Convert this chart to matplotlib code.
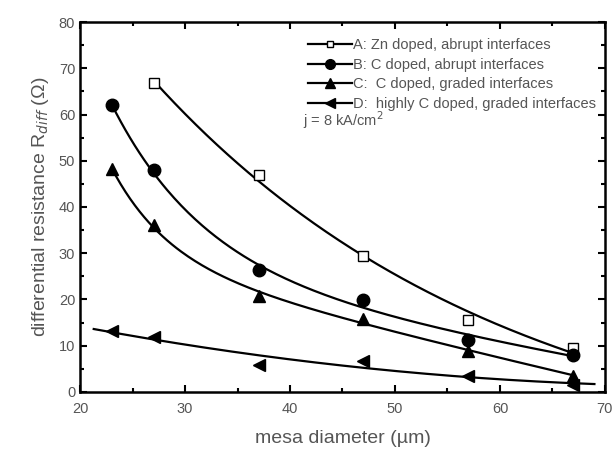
import numpy as np
import matplotlib
matplotlib.use("Agg")
import matplotlib.pyplot as plt
from matplotlib.ticker import MultipleLocator

plt.rcParams['font.family'] = ['Liberation Sans', 'DejaVu Sans']

x_A = [27, 37, 47, 57, 67]
y_A = [66.8, 47.0, 29.3, 15.5, 9.5]
x_B = [23, 27, 37, 47, 57, 67]
y_B = [62.0, 48.0, 26.3, 19.8, 11.3, 8.0]
x_C = [23, 27, 37, 47, 57, 67]
y_C = [48.3, 36.0, 20.8, 15.8, 8.8, 3.5]
x_D = [23, 27, 37, 47, 57, 67]
y_D = [13.1, 11.9, 5.9, 6.6, 3.5, 1.5]

labels = ["A: Zn doped, abrupt interfaces",
          "B: C doped, abrupt interfaces",
          "C:  C doped, graded interfaces",
          "D:  highly C doped, graded interfaces"]

fig = plt.figure(figsize=(6.16, 4.5), dpi=100)
ax = fig.add_axes([0.13, 0.129, 0.852, 0.822])

tc = '#555555'

def expdec2_fit(xs, ys, x0, x1):
    xs = np.asarray(xs, float); ys = np.asarray(ys, float)
    best = None
    ts = np.geomspace(1.5, 400, 80)
    for i, t1 in enumerate(ts):
        for t2 in ts[i + 1:]:
            A = np.column_stack([np.ones_like(xs), np.exp(-(xs - 20) / t1),
                                 np.exp(-(xs - 20) / t2)])
            coef, *_ = np.linalg.lstsq(A, ys, rcond=None)
            if coef[1] < 0 or coef[2] < 0:
                continue
            err = np.sum((A @ coef - ys) ** 2)
            if best is None or err < best[0]:
                best = (err, t1, t2, coef)
    _, t1, t2, coef = best
    xx = np.linspace(x0, x1, 200)
    yy = coef[0] + coef[1] * np.exp(-(xx - 20) / t1) + coef[2] * np.exp(-(xx - 20) / t2)
    return xx, yy

def poly2_fit(xs, ys, x0, x1):
    c = np.polyfit(np.asarray(xs, float), np.asarray(ys, float), 2)
    xx = np.linspace(x0, x1, 200)
    return xx, np.polyval(c, xx)

series = [(x_A, y_A, 's', 'white', 27, 67, 7, expdec2_fit),
          (x_B, y_B, 'o', 'black', 23, 67, 9, expdec2_fit),
          (x_C, y_C, '^', 'black', 23, 67, 9, expdec2_fit),
          (x_D, y_D, '<', 'black', 21.3, 69, 9, poly2_fit)]

for (xs, ys, m, fc, x0, x1, ms, fit), lab in zip(series, labels):
    xx, yy = fit(xs, ys, x0, x1)
    ax.plot(xx, yy, color='black', lw=1.6, zorder=2)
    ax.plot(xs, ys, linestyle='none', marker=m, markersize=ms,
            markerfacecolor=fc, markeredgecolor='black', markeredgewidth=1.0, zorder=3)
    ax.plot([], [], color='black', lw=1.6, marker=m, markersize=ms - 2,
            markerfacecolor=fc, markeredgecolor='black', label=lab)

ax.set_xlim(20, 70)
ax.set_ylim(0, 80)
ax.xaxis.set_major_locator(MultipleLocator(10))
ax.xaxis.set_minor_locator(MultipleLocator(5))
ax.yaxis.set_major_locator(MultipleLocator(10))
ax.yaxis.set_minor_locator(MultipleLocator(5))
ax.tick_params(which='both', direction='in', top=True, right=True, width=1.5,
               labelsize=10.5, labelcolor=tc)
ax.tick_params(axis='x', which='major', pad=7)
ax.tick_params(which='major', length=5)
ax.tick_params(which='minor', length=3)
for s in ax.spines.values():
    s.set_linewidth(1.8)

ax.set_xlabel('mesa diameter (\u00b5m)', fontsize=14, color=tc, labelpad=10)
ax.set_ylabel('differential resistance R$_{diff}$ (\u03a9)', fontsize=14, color=tc, labelpad=6)

leg = ax.legend(loc='upper right', frameon=False, fontsize=10.5, handlelength=3.0,
                handletextpad=0.1, labelspacing=0.38, borderaxespad=0.2,
                bbox_to_anchor=(1.0, 0.98))
for t in leg.get_texts():
    t.set_color(tc)

ax.text(0.425, 0.735, 'j = 8 kA/cm$^2$', transform=ax.transAxes, fontsize=10.5,
        color=tc, va='center')

fig.savefig('out.png', dpi=100)
